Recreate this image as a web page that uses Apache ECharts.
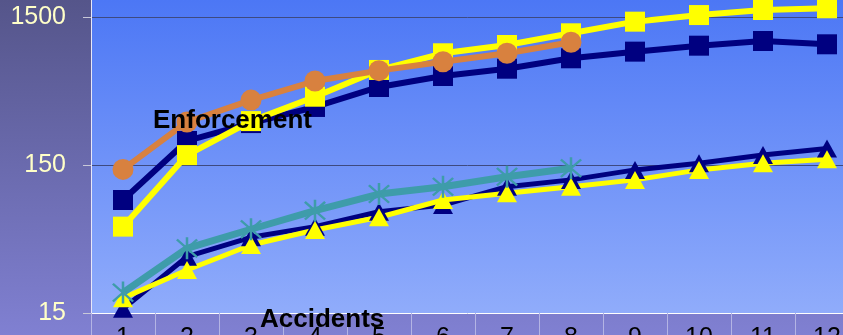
<!DOCTYPE html>
<html>
<head>
<meta charset="utf-8">
<script src="https://cdn.jsdelivr.net/npm/echarts@6/dist/echarts.min.js"></script>
<style>
  html, body { margin: 0; padding: 0; }
  #chart { width: 843px; height: 335px; }
</style>
</head>
<body>
<div id="chart"></div>
<script>
// categories (months)
const categories = ['1', '2', '3', '4', '5', '6', '7', '8', '9', '10', '11', '12']
const yTicks = [15, 150, 1500]

// enforcement
const enfNavy = [87, 218, 288, 370, 505, 599, 671, 789, 875, 960, 1033, 981]
const enfYellow = [57.5, 175, 297, 434, 658, 853, 970, 1164, 1395, 1546, 1673, 1718]
const enfOrange = [140, 293, 412, 554, 651, 748, 853, 1012]

// accidents
const accNavy = [16, 36, 48.7, 57.5, 72.5, 80.5, 107, 119, 139, 154, 175, 194]
const accYellow = [18.9, 29.3, 43.2, 54.6, 66.5, 87, 96.6, 107, 119, 139, 154, 164]
const accTeal = [20.6, 41, 55.2, 73.7, 95.5, 107, 125, 142.5]

const asterisk = 'path://M9 0L11 0L11 20L9 20Z M1.3 2.7L2.7 1.3L18.7 17.3L17.3 18.7Z M17.3 1.3L18.7 2.7L2.7 18.7L1.3 17.3Z'

function lineSeries(data, color, width, symbol, size) {
  return {
    type: 'line',
    data: data,
    symbol: symbol,
    symbolSize: size,
    showSymbol: true,
    clip: false,
    lineStyle: { color: color, width: width },
    itemStyle: { color: color, opacity: 1 },
    emphasis: { disabled: true }
  }
}

const chart = echarts.init(document.getElementById('chart'))
const options = {
  animation: false,
  backgroundColor: {
    type: 'linear', x: 0, y: 0, x2: 0, y2: 1,
    colorStops: [{ offset: 0, color: '#55558a' }, { offset: 1, color: '#8080d2' }]
  },
  grid: {
    left: 91,
    right: -16,
    top: -131,
    bottom: 22,
    outerBoundsMode: 'none',
    containLabel: false,
    show: true,
    borderWidth: 0,
    backgroundColor: {
      type: 'linear', x: 0, y: 0, x2: 0, y2: 1,
      colorStops: [
        { offset: 0, color: '#3f6ef4' },
        { offset: 0.295, color: '#4c77f5' },
        { offset: 1, color: '#90acfb' }
      ]
    }
  },
  xAxis: {
    type: 'category',
    data: categories,
    boundaryGap: true,
    axisLine: { show: true, lineStyle: { color: '#ffffff', width: 1 } },
    axisTick: { show: true, interval: 0, length: 22, lineStyle: { color: '#b4b4e4', width: 1 } },
    axisLabel: {
      interval: 0,
      color: '#000000',
      fontFamily: 'Liberation Sans',
      fontSize: 25,
      margin: 13
    }
  },
  yAxis: {
    type: 'log',
    logBase: 10,
    min: 15,
    max: 15000,
    axisLine: { show: true, lineStyle: { color: '#e8e8f8', width: 1 } },
    axisTick: { show: true, length: 8, customValues: yTicks, lineStyle: { color: '#c8c8d8' } },
    axisLabel: {
      customValues: yTicks,
      formatter: function (v) { return String(Math.round(v)) },
      color: '#ffffc8',
      fontFamily: 'Liberation Sans',
      fontSize: 25,
      margin: 25,
      padding: [4, 0, 0, 0]
    },
    splitLine: { show: true, lineStyle: { color: '#3e4a80', width: 1 } }
  },
  series: [
    lineSeries(enfNavy, '#000080', 6, 'rect', 20),
    lineSeries(enfYellow, '#ffff00', 6, 'rect', 20),
    lineSeries(enfOrange, '#d8813f', 6, 'circle', 21),
    lineSeries(accNavy, '#000080', 5, 'triangle', [20, 18]),
    lineSeries(accYellow, '#ffff00', 5, 'triangle', [20, 18]),
    lineSeries(accTeal, '#3e9caa', 7, asterisk, 22)
  ],
  graphic: [
    {
      type: 'text', left: 153, top: 108, z: 100,
      style: { text: 'Enforcement', fill: '#000000', font: 'bold 26px "Liberation Sans"' }
    },
    {
      type: 'text', left: 260, top: 307, z: 100,
      style: { text: 'Accidents', fill: '#000000', font: 'bold 26px "Liberation Sans"' }
    }
  ]
}
options && chart.setOption(options)
</script>
</body>
</html>
